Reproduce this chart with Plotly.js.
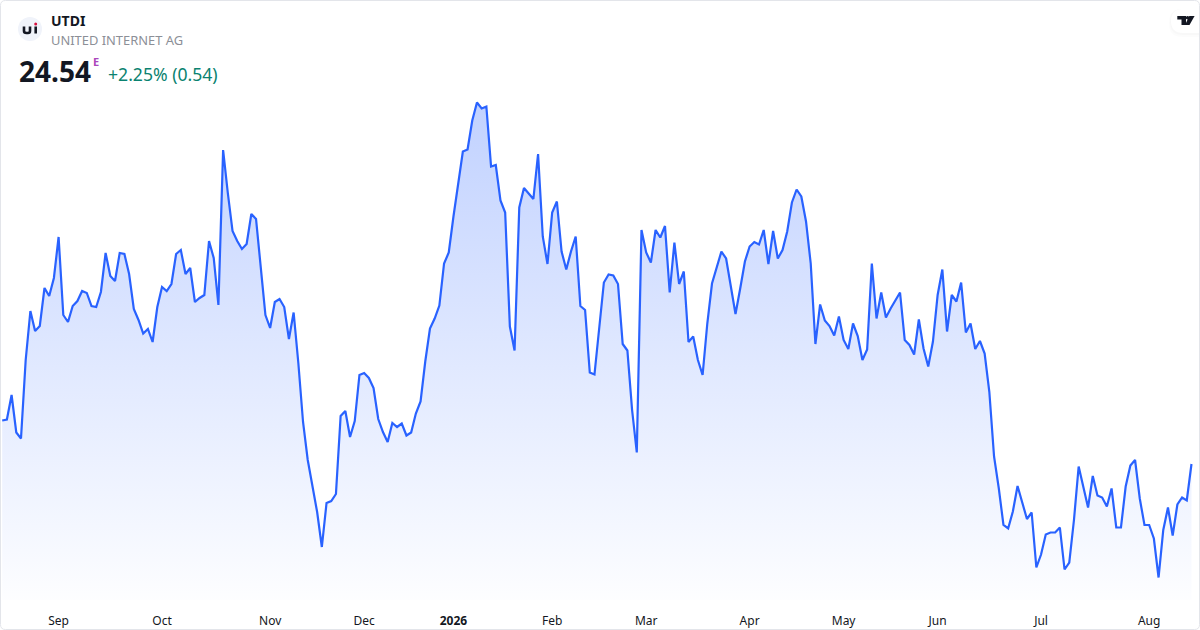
<!DOCTYPE html>
<html><head><meta charset="utf-8">
<script src="https://cdn.plot.ly/plotly-3.0.1.min.js"></script>
<style>html,body{margin:0;padding:0;background:#fff;overflow:hidden}#c{width:1200px;height:630px}</style>
</head><body><div id="c"></div>
<script>
const prices=[25.41,25.43,25.92,25.17,25.05,26.62,27.60,27.20,27.30,28.06,27.90,28.26,29.08,27.52,27.38,27.70,27.80,28.00,27.96,27.70,27.68,27.98,28.76,28.30,28.20,28.76,28.74,28.34,27.64,27.42,27.15,27.24,26.98,27.68,28.08,28.00,28.14,28.74,28.82,28.34,28.46,27.78,27.86,27.92,29.00,28.66,27.72,30.82,29.96,29.20,29.00,28.84,28.94,29.54,29.44,28.48,27.52,27.26,27.78,27.84,27.68,27.04,27.57,26.56,25.38,24.62,24.06,23.58,22.88,23.76,23.80,23.94,25.50,25.60,25.08,25.40,26.32,26.36,26.26,26.06,25.44,25.18,24.98,25.36,25.28,25.35,25.11,25.17,25.55,25.79,26.59,27.25,27.45,27.71,28.55,28.77,29.49,30.19,30.79,30.83,31.41,31.77,31.65,31.69,30.49,30.52,29.81,29.57,27.29,26.81,29.67,30.06,29.95,29.84,30.74,29.09,28.54,29.57,29.79,28.79,28.43,28.79,29.09,27.70,27.62,26.37,26.33,27.25,28.17,28.33,28.31,28.14,26.94,26.81,25.62,24.77,29.22,28.77,28.57,29.22,29.07,29.30,27.97,28.97,28.14,28.39,26.98,27.09,26.62,26.32,27.35,28.15,28.47,28.79,28.65,28.09,27.54,28.05,28.59,28.89,28.98,28.93,29.22,28.54,29.20,28.65,28.82,29.19,29.77,30.03,29.89,29.39,28.55,26.94,27.73,27.41,27.30,27.11,27.49,27.02,26.84,27.35,27.10,26.62,26.83,28.55,27.45,27.97,27.47,27.65,27.82,27.97,27.02,26.92,26.73,27.43,26.85,26.49,26.99,27.92,28.43,27.19,27.92,27.79,28.17,27.17,27.35,26.84,27.00,26.75,25.98,24.69,24.06,23.32,23.25,23.59,24.10,23.79,23.44,23.57,22.47,22.73,23.13,23.17,23.17,23.27,22.43,22.57,23.42,24.49,24.09,23.67,24.30,23.91,23.87,23.69,24.05,23.27,23.27,24.09,24.51,24.62,23.85,23.32,23.32,23.05,22.27,23.22,23.67,23.11,23.73,23.87,23.81,24.54];
const sessions=prices.map((_,i)=>i);
const monthTickSessions=[12,34,57,77,96,117,137,159,179,199,221,244];
const monthTickLabels=['Sep','Oct','Nov','Dec','<b>2026</b>','Feb','Mar','Apr','May','Jun','Jul','Aug'];
const symbol='UTDI', company='UNITED INTERNET AG', last='24.54', change='+2.25% (0.54)';

const W=1200,H=630,L=2,T=0,PW=1197,PH=600;
const fx=X=>(X-L)/PW, fy=Y=>1-(Y-T)/PH;
const FONT='"Noto Sans","Open Sans",sans-serif';
function note(text,X,Y,size,color,extra){return Object.assign({text,xref:'paper',yref:'paper',x:fx(X),y:fy(Y),xanchor:'left',yanchor:'middle',showarrow:false,borderpad:0,font:{family:FONT,size,color}},extra||{});}
function iconShape(path,opts){return Object.assign({type:'path',xref:'paper',yref:'paper',xsizemode:'pixel',ysizemode:'pixel',xanchor:0,yanchor:1,path,layer:'above',line:{width:0}},opts||{});}
function dot(cx,cy,r,fill){return {type:'circle',xref:'paper',yref:'paper',xsizemode:'pixel',ysizemode:'pixel',xanchor:0,yanchor:1,x0:cx-L-r,x1:cx-L+r,y0:-(cy-T)-r,y1:-(cy-T)+r,fillcolor:fill,line:{width:0},layer:'above'};}
const pt=(X,Y)=>(X-L)+','+(-(Y-T));
function rrect(x0,y0,x1,y1,r){return 'M'+pt(x0+r,y0)+' L'+pt(x1-r,y0)+' Q'+pt(x1,y0)+' '+pt(x1,y0+r)+' L'+pt(x1,y1-r)+' Q'+pt(x1,y1)+' '+pt(x1-r,y1)+' L'+pt(x0+r,y1)+' Q'+pt(x0,y1)+' '+pt(x0,y1-r)+' L'+pt(x0,y0+r)+' Q'+pt(x0,y0)+' '+pt(x0+r,y0)+' Z';}

const shapes=[
 // TradingView badge
 iconShape(rrect(1169,9,1212,37,13),{fillcolor:'rgba(0,0,0,0.01)'}),
 iconShape(rrect(1170,9,1212,35,12.5),{fillcolor:'rgba(0,0,0,0.015)'}),
 iconShape(rrect(1171,9,1212,33,12),{fillcolor:'#ffffff'}),
 iconShape('M'+pt(1177.3,16)+' L'+pt(1186,16)+' L'+pt(1186,25)+' L'+pt(1181.5,25)+' L'+pt(1181.5,19.6)+' L'+pt(1177.3,19.6)+' Z',{fillcolor:'#131722'}),
 iconShape('M'+pt(1189.3,16)+' L'+pt(1194.6,16)+' L'+pt(1189.5,25)+' L'+pt(1185,25)+' Z',{fillcolor:'#131722'}),
 dot(1187.6,17.8,1.8,'#131722'),
 // company logo
 dot(30,29,12,'#f0f3fa'),
 iconShape('M'+pt(24,26.5)+' L'+pt(24,31)+' Q'+pt(24,33)+' '+pt(26.5,33)+' L'+pt(28,33)+' Q'+pt(30,33)+' '+pt(30,31)+' L'+pt(30,26.5),{fillcolor:'rgba(0,0,0,0)',line:{width:2.6,color:'#131722'}}),
 iconShape('M'+pt(35.7,26.5)+' L'+pt(35.7,33.5),{line:{width:2.6,color:'#131722'}}),
 dot(35.7,24,1.5,'#d6103f'),
 // card border
 iconShape(rrect(0.5,0.5,1199.5,629.5,5),{line:{width:1,color:'#e3e5ea'}})
];

const annotations=[
 note('<b>'+symbol+'</b>',50,20.5,14,'#131722'),
 note(company,50,40,12.9,'#8c8f97'),
 note('<b>'+last+'</b>',18,71,28,'#131722'),
 note('<b>E</b>',92,61.5,11,'#ab47bc'),
 note(change,107,74.5,17.6,'#0a8270')
];

Plotly.newPlot('c',[{
  x:sessions,y:prices,type:'scatter',mode:'lines',
  line:{color:'#2962FF',width:2.2,shape:'linear'},
  fill:'tozeroy',
  fillgradient:{type:'vertical',start:21.82,stop:31.82,colorscale:[[0,'rgba(41,98,255,0.01)'],[1,'rgba(41,98,255,0.29)']]},
  hoverinfo:'skip'
}],{
  width:W,height:H,margin:{l:L,r:W-L-PW,t:T,b:H-T-PH,pad:0},
  paper_bgcolor:'#ffffff',plot_bgcolor:'#ffffff',showlegend:false,
  xaxis:{range:[-0.04,254.6],tickmode:'array',tickvals:monthTickSessions,ticktext:monthTickLabels,showgrid:false,zeroline:false,showline:false,
    ticks:'outside',ticklen:10,tickcolor:'rgba(0,0,0,0)',tickangle:0,tickfont:{family:FONT,size:12,color:'#131722'}},
  yaxis:{range:[21.82,33.82],visible:false,fixedrange:true},
  shapes,annotations
},{displayModeBar:false,staticPlot:true});
</script></body></html>
